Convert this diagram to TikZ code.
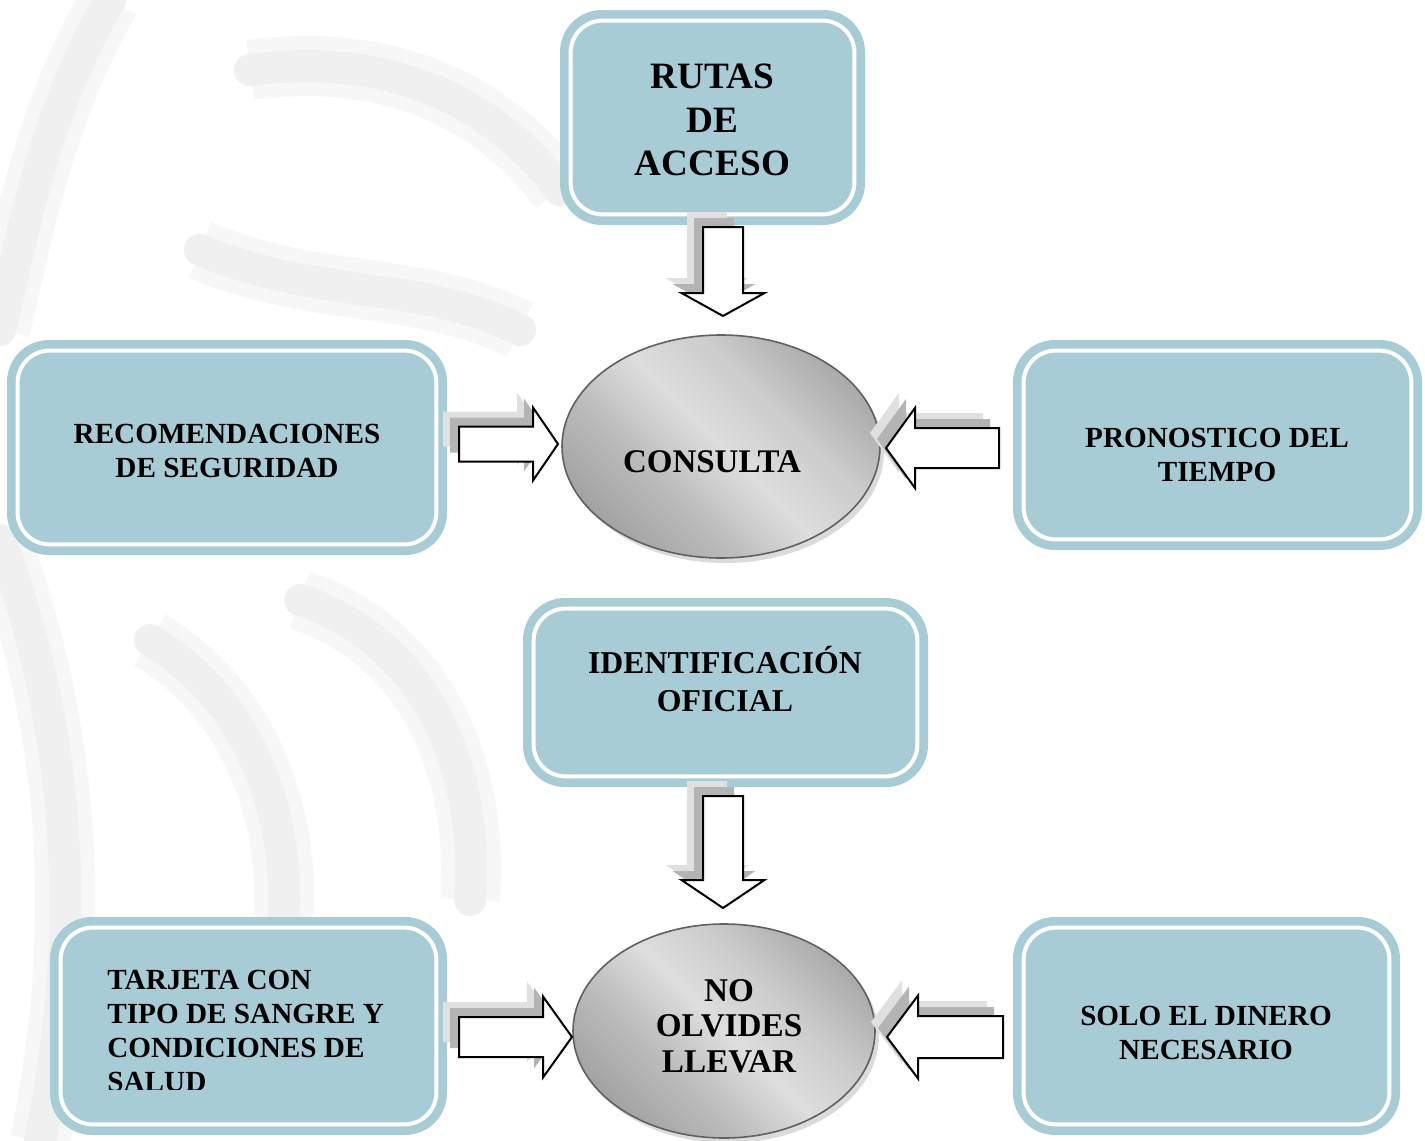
\documentclass[tikz,border=0pt]{standalone}
\usepackage{fontspec}
\setmainfont{Liberation Serif}
\usetikzlibrary{shapes.geometric,shadows}
\definecolor{boxblue}{RGB}{168,204,214}
\definecolor{shdark}{RGB}{180,180,180}
\definecolor{shlight}{RGB}{224,224,224}
\definecolor{wmarkA}{RGB}{247,247,247}
\definecolor{wmarkB}{RGB}{240,240,240}
\pgfdeclareverticalshading{ovalshade}{100bp}{color(0bp)=(gray!72); color(25bp)=(gray!72); color(38bp)=(gray!52); color(50bp)=(gray!26); color(62bp)=(gray!40); color(75bp)=(gray!66); color(100bp)=(gray!66)}
\tikzset{
  bluebox/.style={fill=boxblue, rounded corners=21pt, inner sep=0pt, draw=none},
  innerline/.style={draw=white, line width=2pt, rounded corners=16pt},
  lbl/.style={font=\bfseries\fontsize{14.6}{17}\selectfont, align=center, inner sep=0pt},
  oval/.style={ellipse, draw=gray!75!black, line width=0.8pt, inner sep=0pt,
    shading=ovalshade, shading angle=-45,
    drop shadow={shadow xshift=2pt, shadow yshift=-2.5pt, fill=gray!55, opacity=0.5}},
  arr/.style={fill=white, draw=black, line width=1pt, line join=miter},
  wm/.style={line cap=round, preaction={draw=wmarkA, line width=30pt}, draw=wmarkB, line width=16pt},
}
\newcommand\blockarr[6]{% tip, angle, shaft length, shaft half width, head half width, head length
  \foreach \dx/\dy/\col in {-16/-15/shlight,-9/-9/shdark}{%
    \fill[\col, shift={(#1)}, shift={(\dx,\dy)}, rotate=#2] (0,0) -- (-#6,#5) -- (-#6,#4) -- (-#6-#3,#4) -- (-#6-#3,-#4) -- (-#6,-#4) -- (-#6,-#5) -- cycle;
  }
  \draw[arr, shift={(#1)}, rotate=#2] (0,0) -- (-#6,#5) -- (-#6,#4) -- (-#6-#3,#4) -- (-#6-#3,-#4) -- (-#6,-#4) -- (-#6,-#5) -- cycle;
}
\newcommand\bluebx[4]{% name, center, width (pt), height (pt)
  \node[bluebox, minimum width=#3pt, minimum height=#4pt] (#1) at (#2) {};
  \draw[innerline] ([shift={(11,11)}]#1.north west) rectangle ([shift={(-11,-11)}]#1.south east);
}
\begin{document}
\begin{tikzpicture}[x=0.5pt,y=-0.5pt]
\useasboundingbox (0,0) rectangle (1425,1141);
\fill[white] (0,0) rectangle (1425,1141);
% faint watermark
\draw[wm] (110,0) .. controls (40,120) and (20,250) .. (0,330);
\draw[wm] (0,540) .. controls (60,700) and (90,900) .. (40,1141);
\draw[wm] (250,70) .. controls (400,50) and (500,110) .. (560,190);
\draw[wm] (300,600) .. controls (420,640) and (480,760) .. (470,900);
\draw[wm] (150,640) .. controls (250,700) and (300,820) .. (280,960);
\draw[wm] (200,250) .. controls (320,300) and (420,280) .. (520,330);

% boxes
\bluebx{rutas}{712.5,117.5}{152.5}{107.5}
\bluebx{recom}{227,447.5}{220}{107.5}
\bluebx{prono}{1217.5,445}{204.5}{105}
\bluebx{ident}{725.5,692.5}{202.5}{94.5}
\bluebx{tarj}{248.5,1026}{198.5}{109}
\bluebx{solo}{1206.5,1026}{193.5}{109}

% ellipses
\node[oval, minimum width=159pt, minimum height=111.5pt] (consulta) at (721,446.5) {};
\node[oval, minimum width=151pt, minimum height=107pt] (noolv) at (724,1031) {};

% texts
\node[lbl, font=\bfseries\fontsize{18.6}{21.75}\selectfont] (rutastxt) at (712.5,120) {RUTAS\\DE\\ACCESO};
\node[lbl] (recomtxt) at (227,451) {RECOMENDACIONES\\DE SEGURIDAD};
\node[lbl] (pronotxt) at (1217,454.5) {PRONOSTICO DEL\\TIEMPO};
\node[lbl, font=\bfseries\fontsize{16.5}{18}\selectfont] (consultatxt) at (712,462) {CONSULTA};
\node[lbl, font=\bfseries\fontsize{15.9}{19}\selectfont] (identtxt) at (725,679) {IDENTIFICACIÓN\\OFICIAL};
\node[lbl, font=\bfseries\fontsize{16.6}{17.75}\selectfont] (noolvtxt) at (729,1026) {NO\\OLVIDES\\LLEVAR};
\node[lbl] (solotxt) at (1206,1033) {SOLO EL DINERO\\NECESARIO};
\begin{scope}
  \clip (0,0) rectangle (1425,1089);
  \node[lbl, align=left, anchor=north west] (tarjtxt) at (107,970) {TARJETA CON\\TIPO DE SANGRE Y\\CONDICIONES DE\\SALUD};
\end{scope}

% block arrows
\coordinate (tipA) at (723,316);
\coordinate (tipB) at (558,444);
\coordinate (tipC) at (886,448);
\coordinate (tipD) at (723,908);
\coordinate (tipE) at (572,1037);
\coordinate (tipF) at (887,1037);
\blockarr{tipA}{-90}{66}{20}{41.5}{23}
\blockarr{tipB}{0}{74}{17.5}{36.5}{25}
\blockarr{tipC}{180}{84}{20}{40}{29}
\blockarr{tipD}{-90}{84}{20}{41.5}{28}
\blockarr{tipE}{0}{84}{20}{40.5}{29}
\blockarr{tipF}{180}{85}{21}{41.5}{31}
\end{tikzpicture}
\end{document}
